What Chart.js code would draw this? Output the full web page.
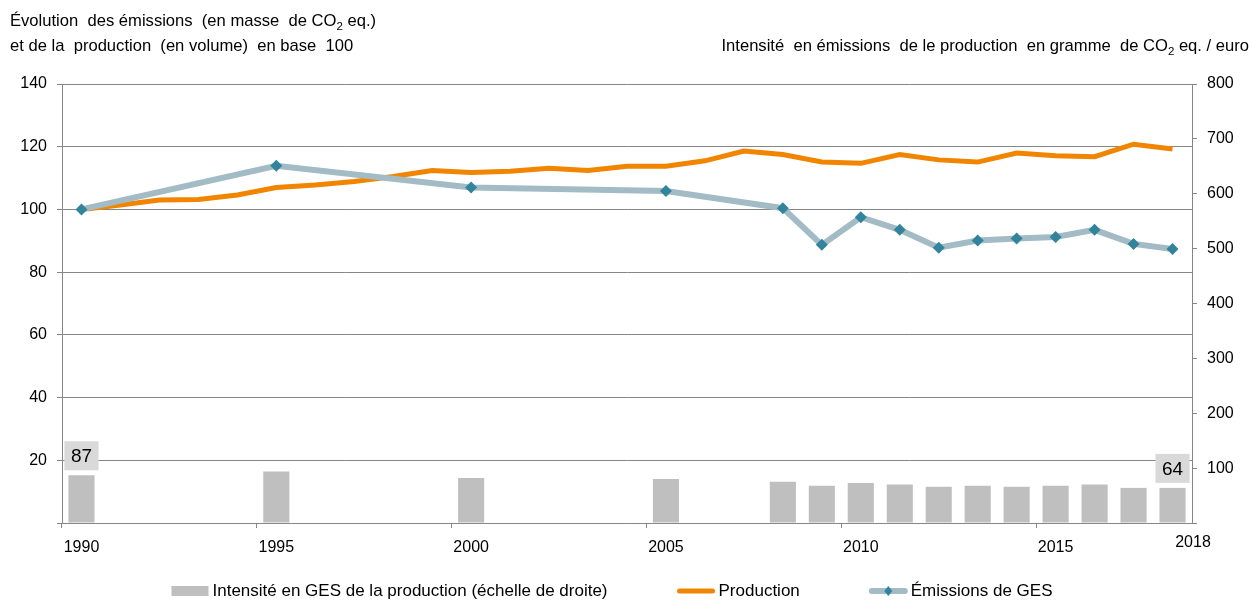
<!DOCTYPE html>
<html lang="fr">
<head>
<meta charset="utf-8">
<title>Émissions et production</title>
<script src="https://cdn.jsdelivr.net/npm/chart.js@4.4.1/dist/chart.umd.min.js"></script>
<style>
  html, body { margin: 0; padding: 0; background: #fff; }
  #chart { display: block; }
</style>
</head>
<body>
<canvas id="chart" width="1251" height="610"></canvas>
<script>
const years = [
  '1990', '1991', '1992', '1993', '1994', '1995', '1996', '1997', '1998', '1999',
  '2000', '2001', '2002', '2003', '2004', '2005', '2006', '2007', '2008', '2009',
  '2010', '2011', '2012', '2013', '2014', '2015', '2016', '2017', '2018'
];

// base 100 (left axis)
const production = [
  100, 101.4, 103, 103.2, 104.6, 107, 107.8, 108.9, 110.5, 112.4,
  111.8, 112.2, 113.1, 112.4, 113.8, 113.8, 115.5, 118.6, 117.5, 115.1,
  114.7, 117.5, 115.8, 115.1, 118, 117.1, 116.8, 120.8, 119.3
];

const emissions = [
  100, null, null, null, null, 113.9, null, null, null, null,
  107, null, null, null, null, 105.9, null, null, 100.4, 88.7,
  97.5, 93.5, 87.8, 90.1, 90.7, 91.2, 93.5, 89, 87.4
];

// g CO2 eq. / euro (right axis)
const intensity = [
  87, null, null, null, null, 94, null, null, null, null,
  82, null, null, null, null, 80, null, null, 75, 68,
  73, 70, 66, 68, 66, 68, 70, 64, 64
];

const labelledYears = ['1990', '2018'];
const xTickYears = ['1990', '1995', '2000', '2005', '2010', '2015'];
const lastYear = '2018';

const leftMax = 140;
const leftStep = 20;
const rightMax = 800;
const rightStep = 100;

const leftTitle = [
  [['Évolution  des émissions  (en masse  de CO', false], ['2', true], [' eq.)', false]],
  [['et de la  production  (en volume)  en base  100', false]]
];
const rightTitle = [
  ['Intensité  en émissions  de le production  en gramme  de CO', false], ['2', true], [' eq. / euro', false]
];

const legendLabels = [
  'Intensité en GES de la production (échelle de droite)',
  'Production',
  'Émissions de GES'
];

const FONT = '"Liberation Sans", Arial, sans-serif';
const GRID = '#868686';
const ORANGE = '#f28500';
const GREY_LINE = '#a3bbc5';
const TEAL = '#31849b';
const BAR = '#bfbfbf';

const drawParts = (ctx, parts, x, y, align) => {
  const widths = parts.map(([text, sub]) => {
    ctx.font = `${sub ? 11.5 : 16.6}px ${FONT}`;
    return ctx.measureText(text).width;
  });
  const total = widths.reduce((a, b) => a + b, 0);
  let cx = align === 'right' ? x - total : x;
  ctx.textAlign = 'left';
  ctx.textBaseline = 'alphabetic';
  parts.forEach(([text, sub], i) => {
    ctx.font = `${sub ? 11.5 : 16.6}px ${FONT}`;
    ctx.fillText(text, cx, sub ? y + 4 : y);
    cx += widths[i];
  });
};

const extrasPlugin = {
  id: 'extras',
  afterDatasetsDraw(chart) {
    const { ctx } = chart;
    const meta = chart.getDatasetMeta(0);
    ctx.save();
    labelledYears.forEach(year => {
      const i = years.indexOf(year);
      const bar = meta.data[i];
      const text = String(intensity[i]);
      ctx.font = `19px ${FONT}`;
      const w = ctx.measureText(text).width + 13;
      const h = 29;
      ctx.fillStyle = '#d9d9d9';
      ctx.fillRect(bar.x - w / 2, bar.y - 5 - h, w, h);
      ctx.fillStyle = '#000';
      ctx.textAlign = 'center';
      ctx.textBaseline = 'middle';
      ctx.fillText(text, bar.x, bar.y - 5 - h / 2 + 1);
    });
    ctx.restore();
  },
  afterDraw(chart) {
    const { ctx } = chart;
    const xScale = chart.scales.x;
    ctx.save();
    ctx.fillStyle = '#000';

    // titles
    drawParts(ctx, leftTitle[0], 10, 26, 'left');
    drawParts(ctx, leftTitle[1], 10, 51, 'left');
    drawParts(ctx, rightTitle, 1249, 51, 'right');

    // last year label sits at the right end of the axis
    ctx.font = `16px ${FONT}`;
    ctx.textAlign = 'center';
    ctx.textBaseline = 'top';
    ctx.fillText(lastYear, xScale.right + 1, xScale.top + 12);

    // legend
    ctx.font = `17px ${FONT}`;
    const symbolW = 37;
    const gap = 4;
    const itemGap = 70;
    const widths = legendLabels.map(l => symbolW + gap + ctx.measureText(l).width);
    const total = widths.reduce((a, b) => a + b, 0) + itemGap * (widths.length - 1);
    let x = 612 - total / 2;
    const y = 591;
    legendLabels.forEach((label, i) => {
      if (i === 0) {
        ctx.fillStyle = BAR;
        ctx.fillRect(x, y - 5, symbolW, 10);
      } else {
        ctx.strokeStyle = i === 1 ? ORANGE : GREY_LINE;
        ctx.lineWidth = i === 1 ? 5 : 6;
        ctx.lineCap = 'round';
        ctx.beginPath();
        ctx.moveTo(x + 2, y);
        ctx.lineTo(x + symbolW - 2, y);
        ctx.stroke();
        if (i === 2) {
          ctx.fillStyle = TEAL;
          ctx.beginPath();
          const cx = x + symbolW / 2;
          ctx.moveTo(cx, y - 5);
          ctx.lineTo(cx + 4, y);
          ctx.lineTo(cx, y + 5);
          ctx.lineTo(cx - 4, y);
          ctx.closePath();
          ctx.fill();
        }
      }
      ctx.fillStyle = '#000';
      ctx.textAlign = 'left';
      ctx.textBaseline = 'middle';
      ctx.fillText(label, x + symbolW + gap, y);
      x += widths[i] + itemGap;
    });
    ctx.restore();
  }
};

const onLoad = () => {
  const ctx = document.getElementById('chart').getContext('2d');
  new Chart(ctx, {
    type: 'bar',
    data: {
      labels: years,
      datasets: [
        {
          type: 'bar',
          label: legendLabels[0],
          data: intensity,
          yAxisID: 'y1',
          backgroundColor: BAR,
          barPercentage: 0.67,
          categoryPercentage: 1,
          order: 3
        },
        {
          type: 'line',
          label: legendLabels[1],
          data: production,
          yAxisID: 'y',
          borderColor: ORANGE,
          borderWidth: 5,
          pointRadius: 0,
          tension: 0,
          order: 2
        },
        {
          type: 'line',
          label: legendLabels[2],
          data: emissions,
          yAxisID: 'y',
          borderColor: GREY_LINE,
          borderWidth: 6,
          spanGaps: true,
          tension: 0,
          pointStyle: 'rectRot',
          pointRadius: 6,
          pointBackgroundColor: TEAL,
          pointBorderWidth: 0,
          order: 1
        }
      ]
    },
    options: {
      responsive: false,
      animation: false,
      devicePixelRatio: 1,
      layout: { padding: { top: 84, bottom: 47, left: 0, right: 0 } },
      plugins: {
        legend: { display: false },
        tooltip: { enabled: false }
      },
      scales: {
        x: {
          offset: true,
          grid: {
            offset: true,
            drawOnChartArea: false,
            tickLength: 5,
            color: c => (c.index % 5 === 0 ? GRID : 'rgba(0,0,0,0)')
          },
          border: { color: GRID },
          ticks: {
            autoSkip: false,
            maxRotation: 0,
            padding: 10,
            color: '#000',
            font: { family: FONT, size: 16 },
            callback: (value, index) => (xTickYears.includes(years[index]) ? years[index] : '')
          },
          afterFit: scale => { scale.height = 40; }
        },
        y: {
          position: 'left',
          min: 0,
          max: leftMax,
          grid: { color: GRID, tickLength: 5 },
          border: { color: GRID },
          ticks: {
            stepSize: leftStep,
            padding: 10,
            color: '#000',
            font: { family: FONT, size: 16 },
            callback: value => (value === 0 ? '' : value)
          },
          afterFit: scale => { scale.width = 62; }
        },
        y1: {
          position: 'right',
          min: 0,
          max: rightMax,
          grid: { drawOnChartArea: false, color: GRID, tickLength: 5 },
          border: { color: GRID },
          ticks: {
            stepSize: rightStep,
            padding: 10,
            color: '#000',
            font: { family: FONT, size: 16 },
            callback: value => (value === 0 ? '' : value)
          },
          afterFit: scale => { scale.width = 59; }
        }
      }
    },
    plugins: [extrasPlugin]
  });
};

window.onload = onLoad;
</script>
</body>
</html>
